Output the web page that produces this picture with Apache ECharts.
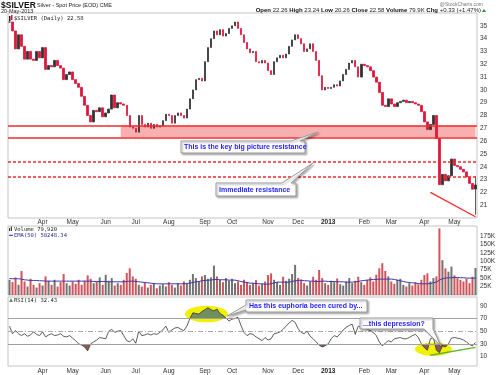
<!DOCTYPE html>
<html>
<head>
<meta charset="utf-8">
<title>$SILVER</title>
<script src="https://cdn.jsdelivr.net/npm/echarts@6/dist/echarts.min.js"></script>
<style>
html, body { margin: 0; padding: 0; background: #fff; }
#main { width: 500px; height: 375px; }
</style>
</head>
<body>
<div id="main"></div>
<script>
// closes, roughly one bar every 2 trading days, Mar 2012 .. 20-May-2013
const closes = [
  35.3, 34.6, 33.2, 34.3, 33.4, 32.4, 33.0, 32.4, 32.3, 33.0,
  32.5, 33.3, 31.6, 31.9, 31.8, 32.3, 31.9, 31.7, 30.8, 31.2,
  31.4, 30.8, 30.5, 30.2, 29.5, 28.8, 28.0, 27.5, 28.4, 28.3,
  28.6, 27.9, 28.2, 28.5, 29.6, 28.6, 29.0, 28.9, 28.8, 28.0,
  27.1, 27.0, 26.7, 28.0, 27.3, 27.1, 27.4, 27.0, 27.3, 27.1,
  27.2, 27.6, 28.1, 28.0, 27.4, 28.0, 28.2, 28.0, 27.8, 28.5,
  29.3, 30.0, 30.8, 30.9, 30.7, 32.2, 33.3, 34.0, 34.6, 34.3,
  34.7, 34.2, 34.4, 34.8, 35.0, 35.3, 34.8, 34.3, 33.7, 33.2,
  32.9, 33.0, 32.2, 32.1, 32.3, 32.1, 31.5, 31.2, 32.2, 32.5,
  32.7, 32.5, 32.8, 33.4, 33.9, 34.3, 34.0, 33.6, 33.0, 33.2,
  33.6, 33.0, 32.3, 31.1, 30.0, 30.2, 30.1, 30.2, 30.4, 30.3,
  30.7, 31.2, 31.6, 32.1, 32.3, 31.8, 31.0, 32.0, 31.9, 31.8,
  31.5, 31.0, 30.6, 29.8, 28.8, 28.7, 29.3, 28.9, 28.7, 29.0,
  29.1, 29.2, 29.0, 29.1, 29.0, 28.9, 28.8, 28.3, 27.5, 26.9,
  27.3, 28.0, 26.2, 22.6, 23.4, 22.9, 23.3, 24.6, 24.1, 24.0,
  23.8, 23.6, 23.2, 22.7, 22.25, 22.58
]
const lastBar = { open: 22.26, high: 23.24, low: 20.26 }

// volume in thousands
const volume = [
  45, 38, 52, 30, 71, 40, 25, 48, 30, 22,
  35, 28, 55, 42, 30, 45, 25, 38, 62, 35,
  28, 40, 33, 45, 30, 42, 58, 48, 35, 40,
  52, 30, 60, 42, 50, 28, 35, 30, 45, 65,
  79, 55, 48, 30, 25, 38, 22, 30, 35, 20,
  28, 32, 25, 38, 30, 22, 35, 28, 40, 33,
  45, 62, 50, 40, 55, 59, 48, 52, 87, 55,
  45, 38, 50, 42, 48, 35, 40, 30, 45, 38,
  30, 35, 44, 28, 33, 40, 59, 64, 45, 38,
  30, 54, 42, 48, 62, 89, 50, 45, 35, 28,
  40, 54, 45, 74, 50, 35, 30, 42, 38, 49,
  32, 28, 40, 50, 35, 42, 54, 38, 30, 45,
  52, 40, 60, 79, 94, 71, 55, 40, 33, 45,
  48, 30, 25, 35, 28, 38, 32, 45, 59, 64,
  40, 50, 55, 197, 103, 79, 69, 84, 58, 50,
  45, 40, 48, 35, 54, 80
]

// EMA(50) of volume, thousands
const volEma = [
  49, 48, 48, 48, 47, 45, 44, 43, 43, 43,
  42, 42, 41, 41, 41, 41, 41, 41, 41, 41,
  41, 41, 41, 41, 41, 41, 41, 41, 40, 40,
  40, 40, 40, 39, 39, 39, 39, 39, 39, 40,
  41, 41, 40, 39, 38, 37, 36, 35, 34, 33,
  33, 33, 33, 33, 33, 33, 33, 33, 33, 34,
  35, 37, 39, 40, 42, 43, 44, 44, 46, 46,
  45, 45, 45, 44, 44, 44, 42, 40, 38, 37,
  35, 35, 34, 33, 33, 32, 32, 33, 36, 38,
  38, 38, 38, 38, 40, 42, 43, 44, 42, 42,
  41, 41, 40, 40, 41, 41, 40, 40, 40, 39,
  39, 39, 38, 38, 38, 39, 40, 42, 43, 44,
  45, 46, 46, 47, 47, 47, 47, 47, 46, 44,
  42, 40, 38, 37, 36, 35, 34, 33, 33, 33,
  34, 36, 38, 44, 48, 50, 51, 51, 52, 52,
  51, 51, 50, 50, 50, 50
]

const rsi = [
  58, 46, 51, 46, 43, 46, 42, 44, 49, 45,
  43, 49, 41, 44, 46, 43, 44, 46, 42, 41,
  43, 39, 35, 30, 28, 25, 19, 30, 33, 36,
  40, 39, 38, 50, 53, 48, 50, 51, 43, 35,
  33, 38, 31, 50, 43, 44, 46, 44, 46, 45,
  48, 52, 58, 48, 52, 55, 56, 53, 51, 58,
  70, 79, 78, 77, 81, 84, 87, 84, 82, 85,
  78, 75, 71, 66, 69, 70, 72, 59, 48, 43,
  46, 45, 41, 38, 35, 40, 36, 38, 46, 47,
  49, 53, 58, 63, 67, 64, 54, 48, 46, 50,
  42, 38, 33, 28, 25, 27, 30, 38, 43, 41,
  46, 52, 56, 59, 61, 45, 58, 56, 55, 53,
  51, 48, 43, 33, 27, 31, 35, 33, 38, 39,
  40, 38, 38, 40, 43, 45, 40, 30, 24, 20,
  38, 40, 20, 16, 27, 25, 30, 39, 40, 39,
  38, 36, 33, 29, 27, 32.43
]

const monthIdx = [11, 21, 32, 42, 53, 65, 74, 86, 96, 106, 118, 127, 138, 148]
const monthTxt = ['Apr', 'May', 'Jun', 'Jul', 'Aug', 'Sep', 'Oct', 'Nov', 'Dec', '2013', 'Feb', 'Mar', 'Apr', 'May']
const rsiTicks = [10, 30, 50, 70, 90]
const bandLevels = [27.2, 26.3]
const dashedLevels = [24.4, 23.2]

const cats = closes.map((c, i) => i)
const labelAt = {}
monthIdx.forEach((k, j) => { labelAt[k] = monthTxt[j] })

const last = closes.length - 1
const ohlc = closes.map((c, i) => {
    if (i === last) return [lastBar.open, c, lastBar.low, lastBar.high]
    const o = i ? closes[i - 1] : c
    return [o, c, Math.min(o, c), Math.max(o, c)]
})
const volData = volume.map((v, i) => ({
    value: v,
    itemStyle: { color: (i === 0 || closes[i] >= closes[i - 1]) ? '#727272' : '#d0545c' }
}))

const RED = '#e0163c'
const LINE_RED = '#f22a2a'
const FONT = 'Liberation Sans'
const MONO = 'DejaVu Sans Mono'

function monthLabel(v, idx) {
    const t = labelAt[idx]
    if (!t) return ''
    return t === '2013' ? '{b|2013}' : t
}

const xBase = {
    type: 'category', data: cats, boundaryGap: true,
    axisLine: { show: false }, axisTick: { show: false }, splitLine: { show: false }
}
const xLabel = {
    show: true, interval: 0, formatter: monthLabel, fontSize: 6.5, fontFamily: FONT, color: '#333',
    rich: { b: { fontSize: 6.5, fontFamily: FONT, fontWeight: 'bold', color: '#222' } }
}
const yBase = {
    position: 'right', splitLine: { show: false },
    axisLine: { show: false }, axisTick: { show: false }
}
const yLabel = { fontSize: 6.5, fontFamily: FONT, color: '#333', margin: 3 }
const panel = { left: 8, width: 469, show: true, borderColor: '#c4c4c4', borderWidth: 1, backgroundColor: 'transparent' }

const g = []
function txt(x, y, text, style) {
    g.push({ type: 'text', x: x, y: y, z: 60, style: Object.assign({ text: text, fill: '#222', fontFamily: FONT, fontSize: 6, verticalAlign: 'middle' }, style || {}) })
}
function callout(pts, text, tx, ty) {
    g.push({
        type: 'polygon', z: 50, shape: { points: pts },
        style: { fill: '#fff', stroke: '#9a9a9a', lineWidth: 1, shadowBlur: 2, shadowOffsetX: 1.5, shadowOffsetY: 1.5, shadowColor: 'rgba(0,0,0,0.3)' }
    })
    txt(tx, ty, text, { fill: '#1f1fff', fontSize: 7, fontWeight: 'bold' })
}

// header
txt(1, 5.5, '$SILVER', { fontSize: 8.5, fontWeight: 'bold', fill: '#111' })
txt(37, 5.5, 'Silver - Spot Price (EOD) CME', { fontSize: 5.5 })
txt(1, 11.2, '20-May-2013', { fontSize: 5.5 })
txt(483, 4.5, '@StockCharts.com', { fontSize: 5, fill: '#777', align: 'right' })
g.push({
    type: 'text', x: 481, y: 10.8, z: 60,
    style: {
        text: '{k|Open} 22.26 {k|High} 23.24 {k|Low} 20.26 {k|Close} 22.58 {k|Volume} 79.9K {k|Chg} +0.33 (+1.47%)',
        fill: '#222', fontFamily: FONT, fontSize: 6, align: 'right', verticalAlign: 'middle',
        rich: { k: { fontFamily: FONT, fontSize: 6, fontWeight: 'bold', fill: '#111' } }
    }
})
g.push({ type: 'polygon', z: 60, shape: { points: [[482, 12], [486, 12], [484, 9]] }, style: { fill: '#1a9a1a' } })

// legends
g.push({ type: 'rect', z: 60, shape: { x: 9, y: 16, width: 1.5, height: 5 }, style: { fill: '#222' } })
g.push({ type: 'rect', z: 60, shape: { x: 11, y: 15, width: 1.5, height: 5 }, style: { fill: RED } })
txt(14, 18.5, '$SILVER (Daily) 22.58', { fontFamily: MONO, fontSize: 5.5 })
g.push({ type: 'rect', z: 60, shape: { x: 9, y: 228, width: 1.2, height: 3 }, style: { fill: '#444' } })
g.push({ type: 'rect', z: 60, shape: { x: 10.8, y: 226.5, width: 1.2, height: 4.5 }, style: { fill: '#444' } })
txt(14, 229.3, 'Volume 79,920', { fontFamily: MONO, fontSize: 5.5 })
g.push({ type: 'line', z: 60, shape: { x1: 9, y1: 235.3, x2: 13, y2: 235.3 }, style: { stroke: '#2a2a90', lineWidth: 1 } })
txt(14, 235.3, 'EMA(50) 50248.34', { fontFamily: MONO, fontSize: 5.5, fill: '#2a2a90' })
g.push({ type: 'polygon', z: 60, shape: { points: [[9, 302], [11, 298], [13, 302]] }, style: { fill: '#6f8f63' } })
txt(14, 300.3, 'RSI(14) 32.43', { fontFamily: MONO, fontSize: 5.5 })

// yellow highlights behind the RSI line
g.push({ type: 'ellipse', z: 0, shape: { cx: 206.5, cy: 314, rx: 21.5, ry: 8.3 }, style: { fill: '#f3ef00' } })
g.push({ type: 'ellipse', z: 0, shape: { cx: 433.5, cy: 349.3, rx: 18.5, ry: 6.7 }, style: { fill: '#f3ef00' } })

// annotation boxes
callout([[181, 141], [291, 141], [318, 132], [300, 141], [305, 141], [305, 153], [181, 153]],
    'This is the key big picture resistance', 184, 147.3)
callout([[216, 183], [282, 183], [313, 163], [291, 183], [296, 183], [296, 196], [216, 196]],
    'Immediate resistance', 219, 189.8)
callout([[246, 300], [367, 300], [367, 312], [246, 312], [246, 310], [227, 316], [246, 305]],
    'Has this euphoria been cured by...', 249, 306.2)
callout([[360, 318], [433, 318], [433, 329], [441, 346], [424, 329], [360, 329]],
    '...this depression?', 363, 323.6)

const bandStyle = { type: 'solid', color: LINE_RED, width: 1.5 }
const dashStyle = { type: [3, 2], color: LINE_RED, width: 1.5 }

const chart = echarts.init(document.getElementById('main'))
chart.setOption({
    animation: false,
    backgroundColor: '#fff',
    grid: [
        Object.assign({ top: 13, height: 205 }, panel),
        Object.assign({ top: 226, height: 69 }, panel),
        Object.assign({ top: 297, height: 70 }, panel)
    ],
    xAxis: [
        Object.assign({ gridIndex: 0, axisLabel: Object.assign({ margin: 1 }, xLabel) }, xBase),
        Object.assign({ gridIndex: 1, axisLabel: { show: false } }, xBase),
        Object.assign({ gridIndex: 2, axisLabel: Object.assign({ margin: 2 }, xLabel) }, xBase)
    ],
    yAxis: [
        Object.assign({
            gridIndex: 0, type: 'value', min: 20, max: 36, interval: 1,
            axisLabel: Object.assign({ formatter: v => (v > 20 && v < 36) ? String(v) : '' }, yLabel)
        }, yBase),
        Object.assign({
            gridIndex: 1, type: 'value', min: 0, max: 204, interval: 25,
            axisLabel: Object.assign({ formatter: v => (v > 0 && v < 200) ? v + 'K' : '' }, yLabel)
        }, yBase),
        Object.assign({
            gridIndex: 2, type: 'value', min: -5, max: 104, interval: 5,
            axisLabel: Object.assign({ formatter: v => rsiTicks.indexOf(v) >= 0 ? String(v) : '' }, yLabel)
        }, yBase)
    ],
    visualMap: {
        show: false, seriesIndex: 3, dimension: 1,
        pieces: [
            { gt: 70, color: '#6f8f63' },
            { gte: 30, lte: 70, color: 'rgba(0,0,0,0)' },
            { lt: 30, color: '#8e5858' }
        ]
    },
    graphic: g,
    series: [
        {
            type: 'candlestick', xAxisIndex: 0, yAxisIndex: 0, data: ohlc, barWidth: 2,
            itemStyle: { color: '#333', color0: RED, borderColor: '#333', borderColor0: RED, borderWidth: 0.8 },
            markArea: {
                silent: true,
                itemStyle: { color: 'rgba(242,110,110,0.55)' },
                data: [[{ xAxis: 37, yAxis: bandLevels[1] }, { xAxis: 155, yAxis: bandLevels[0] }]]
            },
            markLine: {
                silent: true, symbol: ['none', 'none'], label: { show: false },
                lineStyle: { color: LINE_RED, width: 1.3, type: 'solid', opacity: 1 },
                data: [
                    [{ coord: [140, 22.0] }, { coord: [155, 20.1] }]
                ].concat(bandLevels.map(v => ({ yAxis: v, lineStyle: bandStyle })))
                 .concat(dashedLevels.map(v => ({ yAxis: v, lineStyle: dashStyle })))
            }
        },
        {
            type: 'bar', xAxisIndex: 1, yAxisIndex: 1, data: volData, barWidth: 2
        },
        {
            type: 'line', xAxisIndex: 1, yAxisIndex: 1, data: volEma, symbol: 'none',
            lineStyle: { color: '#3a3aa8', width: 1 }, z: 4
        },
        {
            type: 'line', xAxisIndex: 2, yAxisIndex: 2, data: rsi, symbol: 'none', z: 1,
            lineStyle: { opacity: 0, width: 0 },
            areaStyle: { origin: 50, opacity: 1 }
        },
        {
            type: 'line', xAxisIndex: 2, yAxisIndex: 2, data: rsi, symbol: 'none', z: 3,
            lineStyle: { color: '#333', width: 0.8 },
            markLine: {
                silent: true, symbol: ['none', 'none'], label: { show: false },
                lineStyle: { color: '#a0a0a0', width: 1, type: 'solid' },
                data: [
                    { yAxis: 70 },
                    { yAxis: 30 },
                    { yAxis: 50, lineStyle: { color: '#aaa', width: 1, type: [5, 2, 1, 2] } },
                    [{ coord: [140, 12], lineStyle: { color: '#5cb82e', width: 1.3, type: 'solid' } }, { coord: [155, 24.5] }]
                ]
            }
        }
    ]
})
</script>
</body>
</html>
